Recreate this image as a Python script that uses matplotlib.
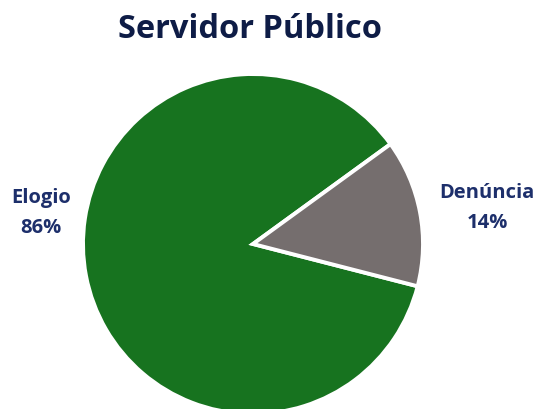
import matplotlib.pyplot as plt

# slice data
labels = ['Elogio', 'Denúncia']
shares = [86, 14]
colors = ['#17731f', '#756e6e']

title_color = '#0e1c46'
label_color = '#1d2f6b'

fig = plt.figure(figsize=(5.36, 4.10), dpi=100)
ax = fig.add_axes([0, 0, 1, 1])

# pie drawn in pixel-like units so the circle can run past the bottom edge
wedges, _ = ax.pie(shares, colors=colors, startangle=36, counterclock=True,
                   center=(253, 165), radius=170, frame=True,
                   wedgeprops=dict(edgecolor='white', linewidth=2.8))
ax.set_xlim(0, 536)
ax.set_ylim(0, 410)
ax.set_aspect('equal')
ax.axis('off')

ax.text(41, 197, f'{labels[0]}\n{shares[0]}%', ha='center', va='center',
        fontsize=14.5, fontweight='bold', color=label_color,
        family='Open Sans', linespacing=1.65)
ax.text(487, 202, f'{labels[1]}\n{shares[1]}%', ha='center', va='center',
        fontsize=14.5, fontweight='bold', color=label_color,
        family='Open Sans', linespacing=1.65)

fig.text(0.467, 0.928, 'Servidor Público', ha='center', va='center',
         fontsize=23.5, fontweight='bold', color=title_color, family='Open Sans')

fig.savefig('out.png', dpi=100)
